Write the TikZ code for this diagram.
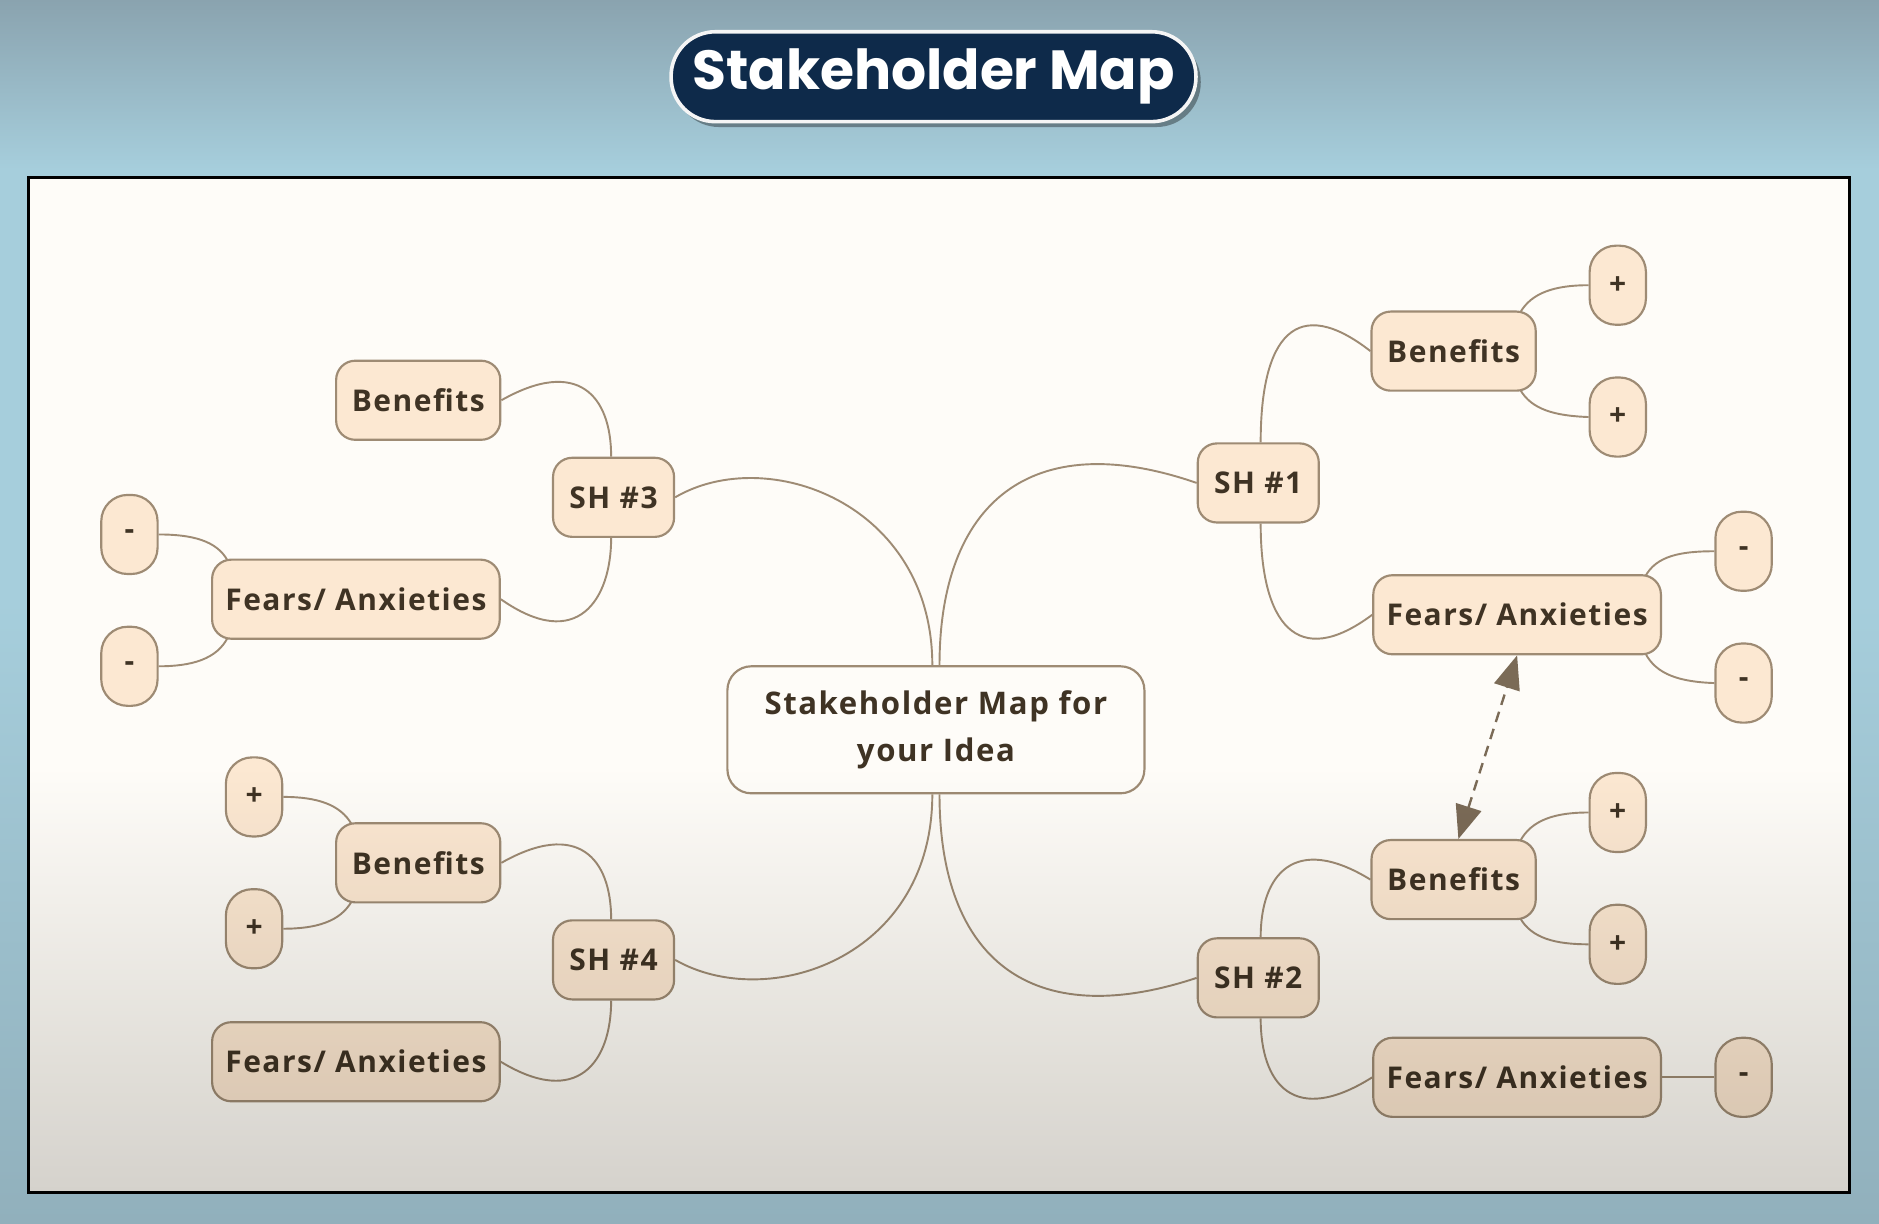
\documentclass[tikz,border=0pt]{standalone}
\usepackage{fontspec}
\setmainfont{Open Sans}[LetterSpace=5]
\newfontfamily\titlefont{Poppins}
\usepackage{tikz}
\usetikzlibrary{positioning,arrows.meta,shapes,backgrounds}

\definecolor{nodefill}{HTML}{FCE8D2}
\definecolor{nodeline}{HTML}{9E8B74}
\definecolor{inkbrown}{HTML}{3F3324}
\definecolor{navy}{HTML}{0E2A4A}
\definecolor{paper}{HTML}{FEFCF8}
\definecolor{bluetop}{HTML}{8AA3AF}
\definecolor{bluemid}{HTML}{A6CEDC}
\definecolor{bluebot}{HTML}{91B0BC}
\definecolor{dimgrey}{HTML}{D6D5D2}
\definecolor{linkarrow}{HTML}{7B6B57}

\begin{document}
\begin{tikzpicture}[x=1pt, y=-1pt, node distance=110pt, text=inkbrown,
    font=\bfseries\fontsize{25}{40}\selectfont,
    topic/.style={draw=nodeline, fill=nodefill, rounded corners=16pt, line width=1.8pt, minimum height=66pt, inner sep=4pt},
    shnode/.style={topic, minimum width=101pt},
    benbox/.style={topic, minimum width=137pt},
    fearbox/.style={topic, minimum width=240pt},
    leaf/.style={topic, rounded corners=22pt, minimum width=47pt},
    branch/.style={draw=nodeline, line width=1.6pt}]

  % title and centre
  \fill[black, opacity=.35, rounded corners=37pt] (563,31) rectangle (1002,106);
  \node[fill=navy, draw=white!92!gray, line width=3pt, rounded corners=37pt, minimum width=438pt, minimum height=75pt, text=white, font=\titlefont\bfseries\fontsize{46}{50}\selectfont] (title) at (779,64) {Stakeholder Map};
  \node[topic, fill=paper, rounded corners=20pt, minimum width=348pt, minimum height=106pt, align=center, font=\bfseries\fontsize{26}{40}\selectfont] (center) at (781,609) {Stakeholder Map for\\your Idea};

  % stakeholders
  \node[shnode] (sh1) at (1050,403) {SH \#1};
  \node[shnode] (sh2) at (1050,816) {SH \#2};
  \node[shnode] (sh3) at (512,415) {SH \#3};
  \node[shnode] (sh4) at (512,801) {SH \#4};

  \node[benbox] (ben1) at (1213,293) {Benefits};
  \node[fearbox] (fear1) at (1266,513) {Fears/ Anxieties};
  \node[benbox] (ben2) at (1213,734) {Benefits};
  \node[fearbox] (fear2) at (1266,899) {Fears/ Anxieties};
  \node[benbox] (ben3) at (349,334) {Benefits};
  \node[fearbox] (fear3) at (297,500) {Fears/ Anxieties};
  \node[benbox] (ben4) at (349,720) {Benefits};
  \node[fearbox] (fear4) at (297,886) {Fears/ Anxieties};

  % leaves
  \node[leaf] (p1a) at (1350,238) {+};
  \node[leaf] (p1b) [below of=p1a] {+};
  \node[leaf] (m1a) at (1455,460) {-};
  \node[leaf] (m1b) [below of=m1a] {-};
  \node[leaf] (p2a) at (1350,678) {+};
  \node[leaf] (p2b) [below of=p2a] {+};
  \node[leaf] (m2) at (1455,899) {-};
  \node[leaf] (m3a) at (108,446) {-};
  \node[leaf] (m3b) [below of=m3a] {-};
  \node[leaf] (p4a) at (212,665) {+};
  \node[leaf] (p4b) [below of=p4a] {+};

  \begin{scope}[on background layer]
    \shade[top color=bluemid, bottom color=bluebot] (0,500) rectangle (1568,1021);
    \fill[bluemid] (0,140) rectangle (1568,501);
    \shade[top color=bluetop, bottom color=bluemid] (0,0) rectangle (1568,141);
    \fill[paper] (24,148) rectangle (1543,995);

    \draw[branch] ([xshift=3pt]center.north) .. controls (784,420) and (860,355) .. (sh1.west);
    \draw[branch] ([xshift=-3pt]center.north) .. controls (778,420) and (640,370) .. (sh3.east);
    \draw[branch] ([xshift=3pt]center.south) .. controls (784,800) and (860,862) .. (sh2.west);
    \draw[branch] ([xshift=-3pt]center.south) .. controls (778,800) and (640,845) .. (sh4.east);

    \draw[branch] ([xshift=2pt]sh1.north) .. controls (1052,280) and (1082,245) .. (ben1.west);
    \draw[branch] ([xshift=2pt]sh1.south) .. controls (1052,520) and (1082,560) .. (fear1.west);
    \draw[branch] ([xshift=2pt]sh2.north) .. controls (1052,730) and (1080,695) .. (ben2.west);
    \draw[branch] ([xshift=2pt]sh2.south) .. controls (1052,905) and (1080,940) .. (fear2.west);
    \draw[branch] ([xshift=-2pt]sh3.north) .. controls (510,330) and (482,298) .. (ben3.east);
    \draw[branch] ([xshift=-2pt]sh3.south) .. controls (510,500) and (482,545) .. (fear3.east);
    \draw[branch] ([xshift=-2pt]sh4.north) .. controls (510,716) and (482,684) .. (ben4.east);
    \draw[branch] ([xshift=-2pt]sh4.south) .. controls (510,886) and (482,925) .. (fear4.east);

    \draw[branch] ([shift={(-14,2)}]ben1.north east) .. controls (1278,244) and (1298,238) .. (p1a.west);
    \draw[branch] ([shift={(-14,-2)}]ben1.south east) .. controls (1278,342) and (1298,347) .. (p1b.west);
    \draw[branch] ([shift={(-14,2)}]fear1.north east) .. controls (1382,464) and (1402,460) .. (m1a.west);
    \draw[branch] ([shift={(-14,-2)}]fear1.south east) .. controls (1382,563) and (1402,569) .. (m1b.west);
    \draw[branch] ([shift={(-14,2)}]ben2.north east) .. controls (1278,684) and (1298,678) .. (p2a.west);
    \draw[branch] ([shift={(-14,-2)}]ben2.south east) .. controls (1278,783) and (1298,788) .. (p2b.west);
    \draw[branch] (fear2.east) -- (m2.west);
    \draw[branch] ([shift={(14,2)}]fear3.north west) .. controls (181,451) and (160,446) .. (m3a.east);
    \draw[branch] ([shift={(14,-2)}]fear3.south west) .. controls (181,550) and (160,556) .. (m3b.east);
    \draw[branch] ([shift={(14,2)}]ben4.north west) .. controls (284,671) and (264,665) .. (p4a.east);
    \draw[branch] ([shift={(14,-2)}]ben4.south west) .. controls (284,769) and (264,775) .. (p4b.east);
  \end{scope}

  % relation
  \draw[linkarrow, line width=2pt, dash pattern=on 9pt off 6pt, {Triangle[length=28pt,width=22pt]}-{Triangle[length=28pt,width=22pt]}] ([xshift=4pt]ben2.north) -- (fear1.south);

  % shading of the lower sheet
  \begin{scope}[blend mode=multiply]
    \shade[top color=white, bottom color=dimgrey] (25,640) rectangle (1542,994);
  \end{scope}
  \draw[black, line width=2.5pt] (24,148) rectangle (1543,995);
\end{tikzpicture}
\end{document}
